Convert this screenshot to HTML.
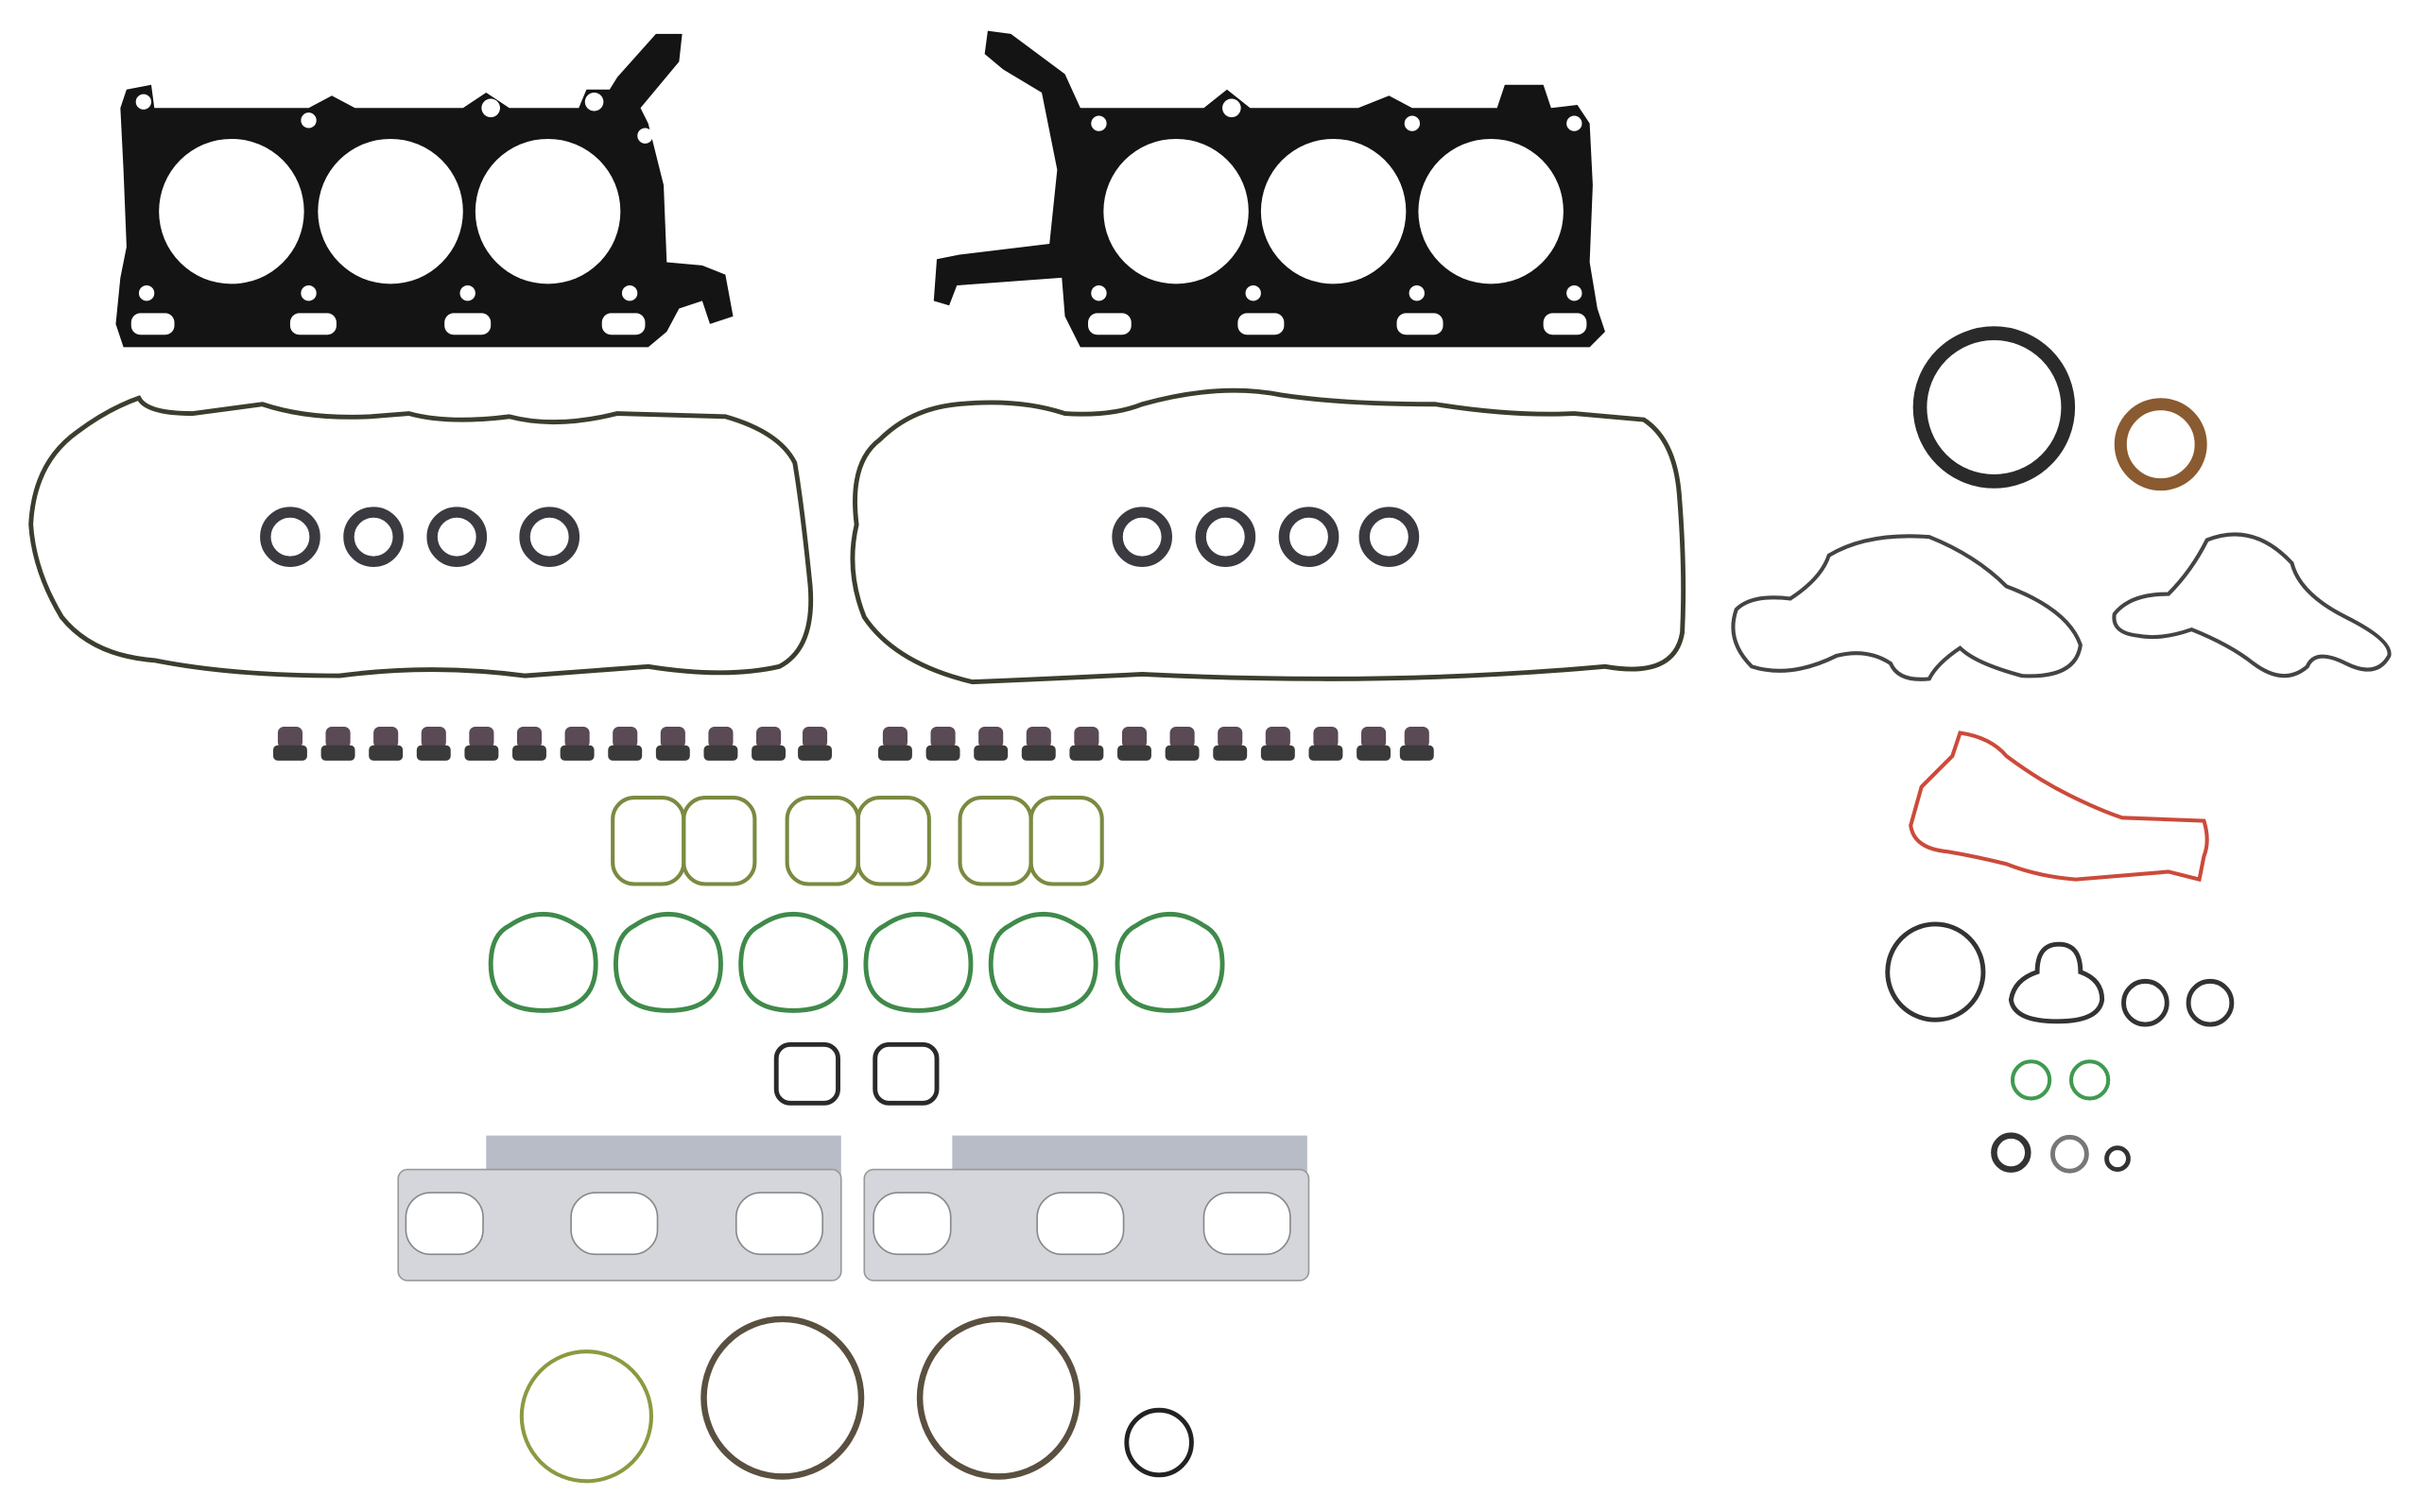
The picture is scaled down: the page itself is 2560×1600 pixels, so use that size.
<!DOCTYPE html>
<html><head><meta charset="utf-8"><style>
html,body{margin:0;padding:0;background:#fff;width:2560px;height:1600px;overflow:hidden}
svg{display:block}
</style></head><body>
<svg width="2560" height="1600" viewBox="0 0 1568 980" xmlns="http://www.w3.org/2000/svg">
<defs>
<g id="vs"><rect x="-8" y="-11" width="16" height="14" rx="4" fill="#5a4a55"/><rect x="-11" y="1" width="22" height="10" rx="3" fill="#3a3a3a"/></g>
</defs>
<rect width="1568" height="980" fill="#fff"/>
<g>
<path d="M82,58 L98,55 L100,70 L200,70 L215,62 L230,70 L300,70 L315,60 L330,70 L375,70 L380,58 L395,58 L400,50 L425,22 L442,22 L440,40 L415,70 L420,80 L430,120 L432,170 L455,172 L470,178 L475,205 L460,210 L455,195 L440,200 L432,215 L420,225 L80,225 L75,210 L78,180 L82,160 L80,110 L78,70 Z" fill="#141414"/>
<circle cx="150" cy="137" r="47" fill="#fff"/><circle cx="253" cy="137" r="47" fill="#fff"/><circle cx="355" cy="137" r="47" fill="#fff"/>
<g fill="#fff"><circle cx="93" cy="66" r="5"/><circle cx="200" cy="78" r="5"/><circle cx="318" cy="70" r="6"/><circle cx="385" cy="66" r="6"/><circle cx="418" cy="88" r="5"/><circle cx="95" cy="190" r="5"/><circle cx="200" cy="190" r="5"/><circle cx="303" cy="190" r="5"/><circle cx="408" cy="190" r="5"/>
<rect x="85" y="203" width="28" height="14" rx="6"/><rect x="188" y="203" width="30" height="14" rx="6"/><rect x="288" y="203" width="30" height="14" rx="6"/><rect x="390" y="203" width="28" height="14" rx="6"/></g>
</g>
<g>
<path d="M640,20 L655,22 L690,48 L700,70 L780,70 L795,58 L810,70 L880,70 L900,62 L915,70 L970,70 L975,55 L1000,55 L1005,70 L1022,68 L1030,80 L1032,120 L1030,170 L1035,200 L1040,215 L1030,225 L700,225 L690,205 L688,180 L620,185 L615,198 L605,195 L607,168 L622,165 L680,158 L685,110 L675,60 L650,45 L638,35 Z" fill="#141414"/>
<circle cx="762" cy="137" r="47" fill="#fff"/><circle cx="864" cy="137" r="47" fill="#fff"/><circle cx="966" cy="137" r="47" fill="#fff"/>
<g fill="#fff"><circle cx="712" cy="80" r="5"/><circle cx="798" cy="70" r="6"/><circle cx="915" cy="80" r="5"/><circle cx="1020" cy="80" r="5"/><circle cx="712" cy="190" r="5"/><circle cx="812" cy="190" r="5"/><circle cx="918" cy="190" r="5"/><circle cx="1020" cy="190" r="5"/>
<rect x="705" y="203" width="28" height="14" rx="6"/><rect x="802" y="203" width="30" height="14" rx="6"/><rect x="905" y="203" width="30" height="14" rx="6"/><rect x="1000" y="203" width="28" height="14" rx="6"/></g>
</g>
<g fill="none" stroke="#3d3d2e" stroke-width="3">
<path d="M90,258 Q95,268 125,268 L170,262 Q200,272 240,270 L265,268 Q290,275 330,270 Q360,278 400,268 L470,270 Q505,280 515,300 Q520,330 525,380 Q528,420 505,432 Q470,440 420,432 L340,438 Q280,430 220,438 Q150,438 100,428 Q60,425 40,400 Q22,370 20,340 Q22,300 50,280 Q70,265 90,258 Z"/>
<path d="M620,262 Q660,258 690,268 Q720,270 740,262 Q790,248 830,256 Q870,262 930,262 Q980,270 1020,268 L1065,272 Q1085,285 1088,320 Q1092,370 1090,410 Q1085,440 1040,432 Q950,440 860,440 Q800,440 740,437 Q680,440 630,442 Q580,430 560,400 Q548,370 555,340 Q550,300 570,285 Q590,265 620,262 Z"/>
</g>
<g fill="none" stroke="#3a3a40" stroke-width="7">
<circle cx="188" cy="348" r="16"/><circle cx="242" cy="348" r="16"/><circle cx="296" cy="348" r="16"/><circle cx="356" cy="348" r="16"/>
<circle cx="740" cy="348" r="16"/><circle cx="794" cy="348" r="16"/><circle cx="848" cy="348" r="16"/><circle cx="900" cy="348" r="16"/>
</g>
<g>
<use href="#vs" x="188" y="482"/><use href="#vs" x="219" y="482"/><use href="#vs" x="250" y="482"/><use href="#vs" x="281" y="482"/><use href="#vs" x="312" y="482"/><use href="#vs" x="343" y="482"/><use href="#vs" x="374" y="482"/><use href="#vs" x="405" y="482"/><use href="#vs" x="436" y="482"/><use href="#vs" x="467" y="482"/><use href="#vs" x="498" y="482"/><use href="#vs" x="528" y="482"/>
<use href="#vs" x="580" y="482"/><use href="#vs" x="611" y="482"/><use href="#vs" x="642" y="482"/><use href="#vs" x="673" y="482"/><use href="#vs" x="704" y="482"/><use href="#vs" x="735" y="482"/><use href="#vs" x="766" y="482"/><use href="#vs" x="797" y="482"/><use href="#vs" x="828" y="482"/><use href="#vs" x="859" y="482"/><use href="#vs" x="890" y="482"/><use href="#vs" x="918" y="482"/>
</g>
<g fill="none" stroke="#7a8a40" stroke-width="2.5">
<rect x="397" y="517" width="46" height="56" rx="14"/><rect x="443" y="517" width="46" height="56" rx="14"/>
<rect x="510" y="517" width="46" height="56" rx="14"/><rect x="556" y="517" width="46" height="56" rx="14"/>
<rect x="622" y="517" width="46" height="56" rx="14"/><rect x="668" y="517" width="46" height="56" rx="14"/>
</g>
<g fill="none" stroke="#3f8a4a" stroke-width="3">
<path d="M330,600 Q352,585 374,600 Q386,606 386,625 Q386,655 352,655 Q318,655 318,625 Q318,606 330,600 Z"/>
<path d="M411,600 Q433,585 455,600 Q467,606 467,625 Q467,655 433,655 Q399,655 399,625 Q399,606 411,600 Z"/>
<path d="M492,600 Q514,585 536,600 Q548,606 548,625 Q548,655 514,655 Q480,655 480,625 Q480,606 492,600 Z"/>
<path d="M573,600 Q595,585 617,600 Q629,606 629,625 Q629,655 595,655 Q561,655 561,625 Q561,606 573,600 Z"/>
<path d="M654,600 Q676,585 698,600 Q710,606 710,625 Q710,655 676,655 Q642,655 642,625 Q642,606 654,600 Z"/>
<path d="M736,600 Q758,585 780,600 Q792,606 792,625 Q792,655 758,655 Q724,655 724,625 Q724,606 736,600 Z"/>
</g>
<g fill="none" stroke="#2a2a2a" stroke-width="3">
<rect x="503" y="677" width="40" height="38" rx="9"/><rect x="567" y="677" width="40" height="38" rx="9"/>
</g>
<g>
<rect x="315" y="736" width="230" height="30" fill="#b8bcc6"/>
<rect x="258" y="758" width="287" height="72" rx="6" fill="#d4d6dc" stroke="#999" stroke-width="1"/>
<rect x="263" y="773" width="50" height="40" rx="16" fill="#fff" stroke="#888"/><rect x="370" y="773" width="56" height="40" rx="16" fill="#fff" stroke="#888"/><rect x="477" y="773" width="56" height="40" rx="16" fill="#fff" stroke="#888"/>
<rect x="617" y="736" width="230" height="30" fill="#b8bcc6"/>
<rect x="560" y="758" width="288" height="72" rx="6" fill="#d4d6dc" stroke="#999" stroke-width="1"/>
<rect x="566" y="773" width="50" height="40" rx="16" fill="#fff" stroke="#888"/><rect x="672" y="773" width="56" height="40" rx="16" fill="#fff" stroke="#888"/><rect x="780" y="773" width="56" height="40" rx="16" fill="#fff" stroke="#888"/>
</g>
<circle cx="380" cy="918" r="42" fill="none" stroke="#8a9a40" stroke-width="2.5"/>
<circle cx="507" cy="906" r="51" fill="none" stroke="#5a5040" stroke-width="4"/>
<circle cx="647" cy="906" r="51" fill="none" stroke="#5a5040" stroke-width="4"/>
<circle cx="751" cy="935" r="21" fill="none" stroke="#222" stroke-width="3"/>
<circle cx="1292" cy="264" r="48" fill="none" stroke="#2a2a2a" stroke-width="9"/>
<circle cx="1400" cy="288" r="26" fill="none" stroke="#8a5a30" stroke-width="8"/>
<g fill="none" stroke="#444" stroke-width="2.5">
<path d="M1125,395 Q1135,385 1160,388 Q1180,375 1185,360 Q1210,345 1250,348 Q1280,360 1300,380 Q1340,395 1348,418 Q1345,440 1310,438 Q1280,430 1270,420 Q1255,430 1250,440 Q1230,442 1225,430 Q1210,420 1190,425 Q1160,440 1135,432 Q1118,415 1125,395 Z"/>
<path d="M1370,398 Q1380,385 1405,385 Q1420,370 1430,350 Q1460,338 1485,365 Q1490,385 1520,400 Q1550,415 1548,425 Q1540,440 1520,430 Q1500,420 1495,432 Q1480,445 1460,430 Q1445,418 1420,408 Q1400,415 1385,412 Q1368,410 1370,398 Z"/>
</g>
<path d="M1245,510 Q1255,500 1265,490 L1270,475 Q1290,478 1300,490 Q1320,505 1340,515 Q1360,525 1375,530 L1428,532 Q1432,545 1428,555 L1425,570 L1405,565 L1345,570 Q1320,568 1300,560 Q1280,555 1262,552 Q1240,550 1238,535 Z" fill="none" stroke="#cc4a3a" stroke-width="2.5"/>
<circle cx="1254" cy="630" r="31" fill="none" stroke="#333" stroke-width="3"/>
<path d="M1320,630 Q1320,612 1334,612 Q1348,612 1348,630 Q1362,635 1362,648 Q1360,662 1333,662 Q1305,662 1303,648 Q1305,635 1320,630 Z" fill="none" stroke="#333" stroke-width="3"/>
<circle cx="1390" cy="650" r="14" fill="none" stroke="#333" stroke-width="3"/>
<circle cx="1432" cy="650" r="14" fill="none" stroke="#333" stroke-width="3"/>
<circle cx="1316" cy="700" r="12" fill="none" stroke="#3f9a50" stroke-width="2.5"/>
<circle cx="1354" cy="700" r="12" fill="none" stroke="#3f9a50" stroke-width="2.5"/>
<circle cx="1303" cy="747" r="11" fill="none" stroke="#333" stroke-width="4"/>
<circle cx="1341" cy="748" r="11" fill="none" stroke="#777" stroke-width="3"/>
<circle cx="1372" cy="751" r="7" fill="none" stroke="#333" stroke-width="3"/>
</svg>
</body></html>
